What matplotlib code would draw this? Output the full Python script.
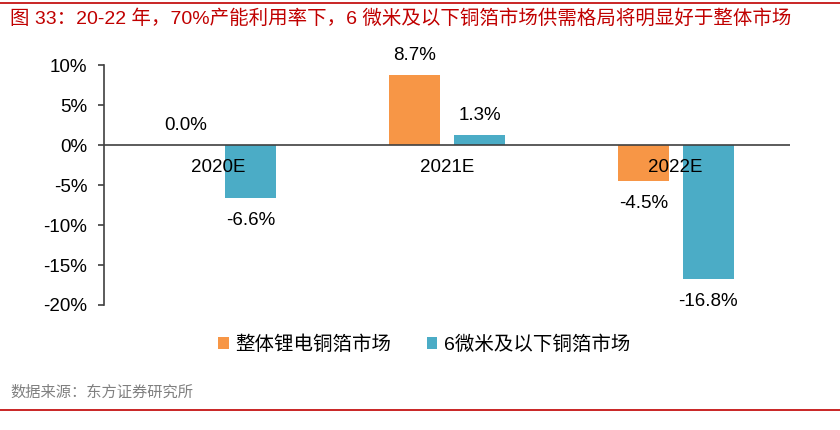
import matplotlib

matplotlib.use("Agg")
import matplotlib.pyplot as plt
import numpy as np

plt.rcParams["font.family"] = ["Liberation Sans", "Noto Sans CJK SC", "DejaVu Sans"]

# datos
years = ["2020E", "2021E", "2022E"]
total_market = [0.0, 8.7, -4.5]      # 整体锂电铜箔市场
thin_market = [-6.6, 1.3, -16.8]     # 6微米及以下铜箔市场
series_names = ["整体锂电铜箔市场", "6微米及以下铜箔市场"]
yticks = [10, 5, 0, -5, -10, -15, -20]

ORANGE = "#F79646"
BLUE = "#4BACC6"
RED = "#C00000"

fig = plt.figure(figsize=(8.4, 4.3), dpi=100)

# lineas rojas superior e inferior
fig.add_artist(plt.Line2D([0.0, 1.0], [0.993, 0.993], color=RED, lw=1.2))
fig.add_artist(plt.Line2D([0.0, 1.0], [0.047, 0.047], color=RED, lw=1.2))

fig.text(0.012, 0.958, "图 33：20-22 年，70%产能利用率下，6 微米及以下铜箔市场供需格局将明显好于整体市场",
         color=RED, fontsize=14, va="center", ha="left")
fig.text(0.012, 0.088, "数据来源：东方证券研究所", color="#808080", fontsize=11,
         va="center", ha="left")

ax = fig.add_axes([0.1238, 0.2907, 0.8167, 0.5581])

x = np.arange(len(years))
w = 0.223
off = 0.142
ax.bar(x - off, total_market, width=w, color=ORANGE, label=series_names[0])
ax.bar(x + off, thin_market, width=w, color=BLUE, label=series_names[1])

for xs, vals in ((x - off, total_market), (x + off, thin_market)):
    for xi, v in zip(xs, vals):
        dy = 14 if v >= 0 else -16
        ax.annotate(f"{v:.1f}%", (xi, v), xytext=(0, dy), textcoords="offset points",
                    ha="center", va="center", fontsize=13.5)

for xi, yr in zip(x, years):
    ax.annotate(yr, (xi, 0), xytext=(0, -16), textcoords="offset points",
                ha="center", va="center", fontsize=13.5)

ax.axhline(0, color="#404040", lw=1.2)
ax.set_xlim(-0.5, 2.5)
ax.set_ylim(-20, 10)
ax.set_yticks(yticks)
ax.set_yticklabels([f"{t}%" for t in yticks], fontsize=13.5)
ax.set_xticks([])
for s in ("top", "right", "bottom"):
    ax.spines[s].set_visible(False)
ax.spines["left"].set_color("#404040")
ax.spines["left"].set_linewidth(1.2)
ax.tick_params(axis="y", length=4, width=1.2, color="#404040", pad=8)

fig.legend(*ax.get_legend_handles_labels(), loc="center", bbox_to_anchor=(0.505, 0.198),
           ncol=2, frameon=False, fontsize=14, handlelength=0.55, handleheight=0.55,
           handletextpad=0.35, columnspacing=1.8)

fig.savefig("out.png", dpi=100)
